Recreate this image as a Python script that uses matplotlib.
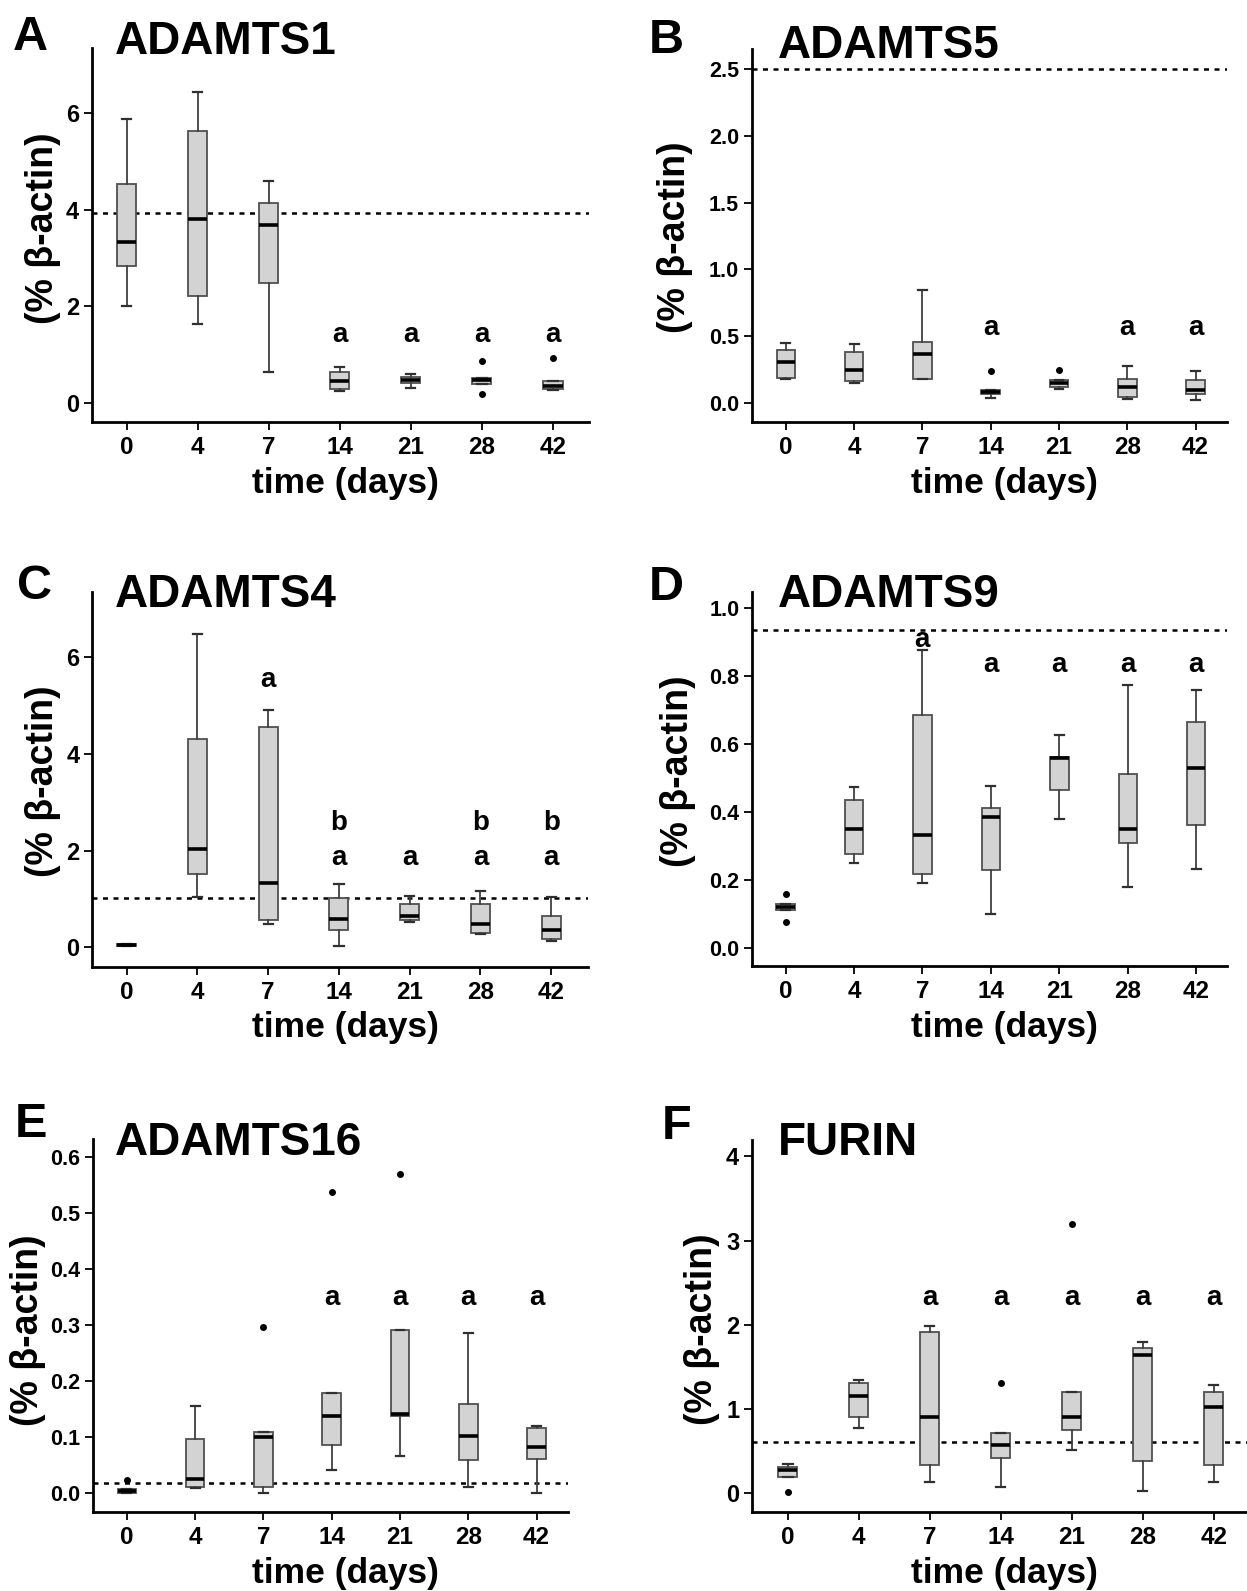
import matplotlib
matplotlib.use("Agg")
import matplotlib.pyplot as plt

plt.rcParams['font.family'] = ['Liberation Sans', 'DejaVu Sans']
plt.rcParams['font.weight'] = 'bold'

days = ["0", "4", "7", "14", "21", "28", "42"]

# ---- Panel A: ADAMTS1 ----
A_lo = [2.00, 1.63, 0.63, 0.25, 0.30, 0.39, 0.26]
A_q1 = [2.83, 2.21, 2.49, 0.28, 0.40, 0.39, 0.28]
A_med = [3.34, 3.80, 3.69, 0.45, 0.47, 0.47, 0.35]
A_q3 = [4.53, 5.63, 4.13, 0.64, 0.53, 0.51, 0.44]
A_hi = [5.88, 6.45, 4.60, 0.73, 0.59, 0.51, 0.44]
A_fliers = [[], [], [], [], [], [0.87, 0.19], [0.93]]
A_ref = 3.94

# ---- Panel B: ADAMTS5 ----
B_lo = [0.180, 0.154, 0.179, 0.042, 0.109, 0.035, 0.025]
B_q1 = [0.187, 0.167, 0.179, 0.070, 0.119, 0.050, 0.070]
B_med = [0.306, 0.249, 0.368, 0.087, 0.149, 0.119, 0.100]
B_q3 = [0.398, 0.381, 0.460, 0.100, 0.174, 0.179, 0.174]
B_hi = [0.453, 0.443, 0.846, 0.100, 0.174, 0.279, 0.244]
B_fliers = [[], [], [], [0.241], [0.249], [], []]
B_ref = 2.50

# ---- Panel C: ADAMTS4 ----
C_lo = [0.02, 1.05, 0.48, 0.03, 0.52, 0.28, 0.13]
C_q1 = [0.03, 1.52, 0.57, 0.35, 0.57, 0.30, 0.17]
C_med = [0.05, 2.03, 1.33, 0.59, 0.64, 0.48, 0.35]
C_q3 = [0.06, 4.30, 4.56, 1.01, 0.90, 0.90, 0.64]
C_hi = [0.07, 6.49, 4.92, 1.31, 1.06, 1.17, 1.05]
C_fliers = [[], [], [], [], [], [], []]
C_ref = 1.03

# ---- Panel D: ADAMTS9 ----
D_lo = [0.113, 0.252, 0.193, 0.101, 0.379, 0.179, 0.232]
D_q1 = [0.113, 0.277, 0.218, 0.230, 0.466, 0.311, 0.363]
D_med = [0.121, 0.352, 0.334, 0.385, 0.560, 0.350, 0.531]
D_q3 = [0.129, 0.436, 0.685, 0.414, 0.562, 0.512, 0.665]
D_hi = [0.129, 0.473, 0.877, 0.477, 0.628, 0.774, 0.760]
D_fliers = [[0.159, 0.076], [], [], [], [], [], []]
D_ref = 0.936

# ---- Panel E: ADAMTS16 ----
E_lo = [0.000, 0.010, 0.000, 0.042, 0.067, 0.012, 0.000]
E_q1 = [0.001, 0.011, 0.012, 0.086, 0.137, 0.059, 0.062]
E_med = [0.004, 0.025, 0.101, 0.137, 0.141, 0.103, 0.083]
E_q3 = [0.007, 0.096, 0.110, 0.178, 0.291, 0.159, 0.117]
E_hi = [0.008, 0.156, 0.110, 0.178, 0.291, 0.286, 0.120]
E_fliers = [[0.023], [], [0.296], [0.537], [0.569], [], []]
E_ref = 0.019

# ---- Panel F: FURIN ----
F_lo = [0.198, 0.78, 0.13, 0.08, 0.51, 0.03, 0.13]
F_q1 = [0.198, 0.90, 0.34, 0.42, 0.75, 0.38, 0.34]
F_med = [0.277, 1.15, 0.91, 0.57, 0.90, 1.64, 1.03]
F_q3 = [0.317, 1.31, 1.91, 0.72, 1.20, 1.73, 1.20]
F_hi = [0.350, 1.35, 1.99, 0.72, 1.20, 1.80, 1.28]
F_fliers = [[0.02], [], [], [1.31], [3.20], [], []]
F_ref = 0.61

# significance letters: (category index, letter, y)
A_sig = [(3, "a", 1.40), (4, "a", 1.40), (5, "a", 1.40), (6, "a", 1.40)]
B_sig = [(3, "a", 0.56), (5, "a", 0.56), (6, "a", 0.56)]
C_sig = [(2, "a", 5.54), (3, "b", 2.58), (5, "b", 2.58), (6, "b", 2.58),
         (3, "a", 1.84), (4, "a", 1.84), (5, "a", 1.84), (6, "a", 1.84)]
D_sig = [(2, "a", 0.907), (3, "a", 0.833), (4, "a", 0.833), (5, "a", 0.833), (6, "a", 0.833)]
E_sig = [(3, "a", 0.348), (4, "a", 0.348), (5, "a", 0.348), (6, "a", 0.348)]
F_sig = [(2, "a", 2.32), (3, "a", 2.32), (4, "a", 2.32), (5, "a", 2.32), (6, "a", 2.32)]

W, H = 1247, 1591
fig = plt.figure(figsize=(W / 100, H / 100), dpi=100)


def add_ax(l, t, r, b):
    return fig.add_axes([l / W, 1 - b / H, (r - l) / W, (b - t) / H])


def panel(rect, lo, q1, med, q3, hi, fliers, ref, sig, xlim, ylim, yticks,
          yticklabels, ytfs, letter, letter_pos, title, title_pos, ylab_pos, xlab_pos):
    ax = add_ax(*rect)
    stats = []
    for i in range(len(days)):
        stats.append(dict(whislo=lo[i], q1=q1[i], med=med[i], q3=q3[i],
                          whishi=hi[i], fliers=fliers[i], label=days[i]))
    ax.bxp(stats, positions=range(len(days)), widths=0.27, capwidths=0.13,
           patch_artist=True, showfliers=True,
           boxprops=dict(facecolor='#d3d3d3', edgecolor='#505050', linewidth=1.3),
           medianprops=dict(color='black', linewidth=2.6),
           whiskerprops=dict(color='#404040', linewidth=1.3),
           capprops=dict(color='#303030', linewidth=1.6),
           flierprops=dict(marker='o', markerfacecolor='black', markeredgecolor='black',
                           markersize=4, linestyle='none'))
    ax.axhline(ref, color='black', linewidth=1.8, linestyle=(0, (2.0, 2.2)), zorder=0.5)
    for (i, t, y) in sig:
        ax.text(i, y, t, ha='center', va='center', fontsize=20, fontweight='bold')
    ax.set_xlim(*xlim)
    ax.set_ylim(*ylim)
    ax.set_yticks(yticks)
    ax.set_yticklabels(yticklabels)
    ax.set_xticks(range(len(days)))
    ax.set_xticklabels(days)
    for s in ['top', 'right']:
        ax.spines[s].set_visible(False)
    for s in ['left', 'bottom']:
        ax.spines[s].set_linewidth(2.0)
    ax.tick_params(axis='x', length=6, width=1.3, pad=4, labelsize=17.5)
    ax.tick_params(axis='y', length=6, width=1.3, pad=3, labelsize=ytfs)
    for lab in ax.get_xticklabels() + ax.get_yticklabels():
        lab.set_fontweight('bold')
    ax.set_facecolor('none')
    fig.text(letter_pos[0] / W, 1 - letter_pos[1] / H, letter, fontsize=35,
             fontweight='bold', ha='left', va='baseline')
    fig.text(title_pos[0] / W, 1 - title_pos[1] / H, title, fontsize=33,
             fontweight='bold', ha='left', va='baseline')
    fig.text(ylab_pos[0] / W, 1 - ylab_pos[1] / H, "(% \u03b2-actin)", fontsize=27,
             fontweight='bold', rotation=90, ha='center', va='center')
    fig.text(xlab_pos[0] / W, 1 - xlab_pos[1] / H, "time (days)", fontsize=25.5,
             fontweight='bold', ha='center', va='center')
    return ax


panel((91.7, 47.7, 588.5, 421.7), A_lo, A_q1, A_med, A_q3, A_hi, A_fliers, A_ref, A_sig,
      (-0.49, 6.5), (-0.394, 7.36), [0, 2, 4, 6], ["0", "2", "4", "6"], 17,
      "A", (13, 50), "ADAMTS1", (115, 54), (43, 228), (345, 484))

panel((751.7, 49, 1227, 421.7), B_lo, B_q1, B_med, B_q3, B_hi, B_fliers, B_ref, B_sig,
      (-0.5, 6.46), (-0.1375, 2.647), [0, 0.5, 1.0, 1.5, 2.0, 2.5],
      ["0.0", "0.5", "1.0", "1.5", "2.0", "2.5"], 15.5,
      "B", (649, 53), "ADAMTS5", (778, 58), (675, 237), (1004, 484))

panel((92, 591.6, 588, 967), C_lo, C_q1, C_med, C_q3, C_hi, C_fliers, C_ref, C_sig,
      (-0.49, 6.52), (-0.408, 7.36), [0, 2, 4, 6], ["0", "2", "4", "6"], 17,
      "C", (17, 599), "ADAMTS4", (115, 607), (43, 781), (345, 1027))

panel((752, 591.6, 1227, 966), D_lo, D_q1, D_med, D_q3, D_hi, D_fliers, D_ref, D_sig,
      (-0.49, 6.45), (-0.052, 1.049), [0, 0.2, 0.4, 0.6, 0.8, 1.0],
      ["0.0", "0.2", "0.4", "0.6", "0.8", "1.0"], 15.5,
      "D", (649, 600), "ADAMTS9", (778, 607), (678, 771), (1004, 1027))

panel((92.7, 1139.5, 568, 1512), E_lo, E_q1, E_med, E_q3, E_hi, E_fliers, E_ref, E_sig,
      (-0.5, 6.46), (-0.0333, 0.6307), [0, 0.1, 0.2, 0.3, 0.4, 0.5, 0.6],
      ["0.0", "0.1", "0.2", "0.3", "0.4", "0.5", "0.6"], 15.5,
      "E", (15, 1137), "ADAMTS16", (115, 1155), (28, 1330), (345, 1574))

panel((751.7, 1139.5, 1247, 1512), F_lo, F_q1, F_med, F_q3, F_hi, F_fliers, F_ref, F_sig,
      (-0.51, 6.47), (-0.222, 4.2), [0, 1, 2, 3, 4], ["0", "1", "2", "3", "4"], 17,
      "F", (662, 1139), "FURIN", (778, 1155), (702, 1329), (1004, 1574))

fig.savefig("out.png", dpi=100, facecolor='white')
